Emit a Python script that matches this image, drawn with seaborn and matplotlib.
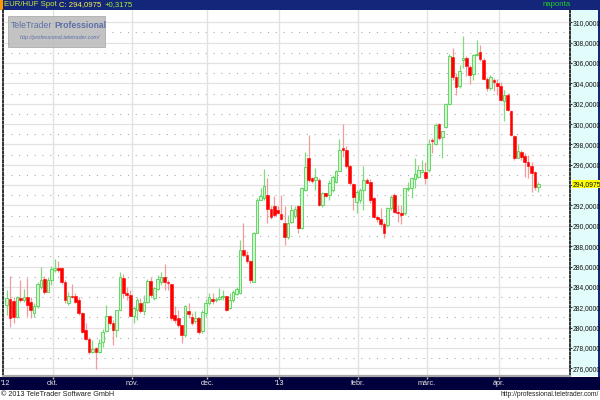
import numpy as np
import pandas as pd
import matplotlib
matplotlib.use("Agg")
import matplotlib.pyplot as plt
import matplotlib.transforms as mtransforms
from matplotlib.patches import Rectangle
import seaborn as sns

# ---------------- data ----------------
dates = pd.bdate_range("2012-09-11", "2013-04-16")

opens = [282.2, 282.8, 282.6, 281.0, 282.9, 282.75, 283.0, 282.5, 281.4, 282.1,
         284.0, 284.8, 283.5, 284.7, 285.7, 285.9, 285.9, 284.5, 282.4, 283.1,
         283.1, 282.7, 281.4, 279.8, 278.9, 277.6, 277.95, 277.6, 278.6, 279.7,
         281.1, 280.4, 279.8, 281.7, 284.9, 283.4, 283.2, 281.1, 281.7, 282.45,
         281.6, 282.55, 284.6, 282.9, 283.8, 284.5, 285.0, 284.5, 284.3, 281.2,
         280.9, 280.25, 279.3, 281.6, 281.0, 280.6, 280.9, 279.7, 281.4, 282.4,
         282.8, 282.7, 282.85, 283.0, 283.1, 281.9, 282.7, 283.3, 283.4, 287.6,
         287.1, 286.5, 284.5, 289.3, 292.5, 292.7, 293.0, 291.7, 291.95, 291.6,
         291.2, 290.3, 288.9, 290.4, 291.0, 291.9, 289.8, 293.5, 296.65, 294.68,
         294.52, 294.52, 292.06, 293.2, 293.04, 293.53, 294.35, 295.43, 297.63, 297.47,
         295.83, 294.12, 292.38, 292.55, 293.53, 294.52, 294.35, 292.71, 290.91, 290.67,
         290.15, 290.09, 291.73, 293.04, 291.4, 291.23, 291.23, 293.63, 293.69, 294.61,
         294.84, 295.33, 295.33, 295.5, 298.45, 298.02, 299.99, 298.68, 299.76, 301.96,
         306.55, 304.59, 303.7, 306.33, 306.49, 305.57, 304.91, 306.75, 307.08, 306.33,
         304.46, 303.54, 304.36, 304.03, 303.7, 302.29, 302.88, 301.31, 298.78, 296.71,
         297.3, 296.91, 296.32, 295.83, 295.33, 293.86]

highs = [283.7, 285.1, 283.0, 283.1, 284.7, 283.8, 284.9, 283.0, 282.4, 284.5,
         286.0, 285.1, 285.0, 286.05, 286.7, 286.5, 286.0, 284.7, 283.5, 284.3,
         283.4, 283.0, 281.5, 280.4, 279.1, 278.8, 278.1, 278.9, 279.9, 282.2,
         281.2, 280.7, 281.7, 285.5, 285.3, 284.0, 283.7, 282.1, 283.0, 282.9,
         283.2, 284.8, 285.0, 284.0, 285.2, 285.5, 286.2, 284.7, 284.3, 282.1,
         281.7, 280.25, 282.2, 282.4, 281.4, 281.6, 281.0, 281.7, 282.8, 283.4,
         283.4, 283.0, 283.85, 283.7, 283.1, 283.4, 283.7, 284.0, 288.6, 290.25,
         287.5, 286.6, 289.4, 292.7, 293.7, 295.6, 294.7, 291.9, 292.9, 291.95,
         293.0, 291.95, 291.1, 292.0, 291.9, 292.06, 293.8, 297.3, 298.9, 294.84,
         295.66, 294.68, 293.37, 293.27, 294.52, 295.01, 295.5, 298.52, 300.03, 297.8,
         295.99, 294.19, 293.53, 293.7, 295.83, 294.68, 294.57, 292.87, 291.07, 291.8,
         290.41, 291.89, 293.04, 293.2, 292.05, 292.05, 293.76, 294.35, 294.84, 296.65,
         295.99, 296.48, 296.32, 298.55, 298.6, 300.09, 300.09, 299.34, 302.06, 306.88,
         307.47, 305.01, 305.83, 308.62, 306.65, 305.83, 306.88, 308.29, 307.74, 306.49,
         304.59, 304.78, 304.52, 304.46, 304.13, 303.37, 303.04, 301.4, 298.94, 298.02,
         297.47, 297.14, 296.97, 296.32, 295.4, 294.35]

lows = [281.2, 280.1, 280.4, 280.9, 282.5, 282.5, 281.1, 280.9, 281.0, 281.9,
        283.8, 283.3, 283.5, 284.2, 285.5, 285.5, 284.3, 282.4, 282.2, 282.9,
        282.4, 281.2, 279.5, 278.8, 277.45, 277.5, 275.9, 277.5, 278.1, 279.6,
        280.3, 278.3, 279.1, 281.7, 282.9, 282.7, 281.1, 280.4, 280.7, 281.4,
        281.2, 282.4, 283.0, 282.7, 283.7, 284.2, 283.7, 283.7, 280.7, 280.4,
        280.1, 278.45, 279.1, 280.9, 280.25, 280.4, 279.4, 279.5, 281.1, 282.2,
        282.3, 282.5, 282.7, 282.7, 281.6, 281.8, 282.5, 283.2, 283.3, 286.97,
        286.3, 284.35, 284.5, 289.3, 292.5, 292.55, 290.25, 290.65, 290.9, 291.2,
        290.6, 288.1, 288.7, 290.25, 290.8, 289.3, 289.7, 293.4, 294.35, 294.2,
        293.53, 291.96, 291.89, 292.87, 292.55, 293.37, 294.19, 295.34, 296.81, 295.66,
        294.02, 291.56, 291.24, 292.22, 291.56, 294.19, 292.22, 290.74, 290.41, 289.92,
        288.77, 289.92, 291.56, 291.23, 290.41, 290.15, 291.07, 293.43, 292.71, 293.69,
        294.68, 295.17, 294.09, 295.33, 297.14, 297.96, 298.45, 296.65, 299.6, 301.9,
        304.36, 302.88, 303.54, 305.5, 304.68, 303.93, 304.36, 306.65, 306.16, 304.36,
        303.21, 303.37, 303.27, 302.81, 302.22, 300.26, 301.31, 298.78, 296.48, 296.65,
        296.48, 294.84, 294.68, 293.37, 293.53, 293.37]

closes = [282.9, 280.9, 281.0, 283.0, 282.75, 283.0, 282.2, 281.7, 282.1, 284.3,
          284.7, 283.5, 284.7, 285.75, 285.9, 285.7, 284.5, 282.7, 283.1, 283.0,
          282.5, 281.4, 279.6, 278.9, 277.6, 277.9, 277.6, 278.5, 279.6, 281.1,
          280.4, 279.8, 281.7, 285.0, 283.4, 283.2, 281.1, 281.9, 282.7, 281.6,
          282.55, 284.6, 283.2, 283.9, 284.75, 285.0, 284.5, 284.4, 280.9, 280.7,
          280.25, 279.3, 282.1, 281.3, 280.4, 280.9, 279.6, 281.5, 282.4, 283.0,
          282.6, 282.8, 283.0, 283.1, 281.7, 282.7, 283.5, 283.8, 287.6, 287.1,
          286.5, 284.7, 289.3, 292.5, 292.9, 293.9, 291.7, 290.9, 291.1, 291.3,
          290.7, 288.9, 290.25, 291.6, 291.7, 289.8, 293.7, 295.8, 294.5, 294.45,
          294.78, 292.06, 293.2, 292.97, 294.25, 294.78, 295.34, 297.47, 297.47, 295.83,
          294.19, 292.87, 293.37, 293.53, 294.52, 294.25, 292.55, 290.91, 290.64, 290.15,
          289.27, 291.73, 292.87, 291.4, 291.23, 291.07, 293.69, 293.76, 294.68, 295.07,
          295.5, 295.5, 294.74, 298.02, 298.35, 299.93, 298.62, 299.27, 301.96, 306.65,
          304.59, 303.6, 305.18, 306.49, 305.67, 304.85, 306.75, 306.88, 306.42, 304.46,
          303.54, 304.59, 304.13, 303.7, 302.39, 302.88, 301.4, 298.94, 296.65, 297.37,
          296.81, 296.32, 295.83, 295.17, 293.78, 294.0975]

month_labels = ["'12", "okt.", "nov.", "dec.", "'13", "febr.", "márc.", "ápr."]
y_ticks = list(range(276, 311, 2))
last_price = 294.0975
last_change = 0.3175
title_symbol = "EUR/HUF Spot"
period_label = "naponta"

# ---------------- style ----------------
sns.set_theme(style="white")
plt.rcParams["font.family"] = ["Liberation Sans", "DejaVu Sans"]

df = pd.DataFrame({"date": dates, "open": opens, "high": highs,
                   "low": lows, "close": closes})
df["idx"] = np.arange(len(df))
df["up"] = df["close"] >= df["open"]

NAVY = "#14267a"
DARK = "#00003c"
W, H = 600, 400

fig = plt.figure(figsize=(6, 4), dpi=100)
fig.patch.set_facecolor("white")
renderer = fig.canvas.get_renderer()


def text_w(s, size, weight="normal", style="normal"):
    t = fig.text(0, 0, s, fontsize=size, fontweight=weight, style=style)
    w = t.get_window_extent(renderer=renderer).width
    t.remove()
    return w


def fx(px):
    return px / W


def fy(py):
    return 1 - py / H


def frect(x, y, w, h, color, z=0, **kw):
    fig.patches.append(Rectangle((fx(x), fy(y + h)), w / W, h / H,
                                 transform=fig.transFigure, facecolor=color,
                                 edgecolor=kw.pop("ec", "none"), zorder=z, **kw))


# frame pieces (figure level, below the axes)
frect(0, 0, 600, 9.6, NAVY)
frect(0, 0, 3, 9.6, "#ff9900", z=0.5)
frect(570, 9.6, 28, 366.4, "#e2fcfc")
frect(598, 0, 2, 390, NAVY)
frect(0, 377, 600, 13, DARK)

ax = fig.add_axes([fx(3), fy(376), (570 - 3) / W, (376 - 9.6) / H])
ax.set_zorder(2)
ax.set_facecolor("white")

ax.set_xlim(-1.08, 164.2)
ax.set_ylim(275.24, 311.25)

# grid
for v in y_ticks:
    ax.axhline(v, color="#e6e1e1", lw=0.9, zorder=0)
for v in range(277, 311, 2):
    ax.axhline(v, color="#ababab", lw=0.8, ls=(0, (1, 6)), zorder=0)

# month boundaries
months = df["date"].dt.to_period("M")
bounds = [i - 0.5 for i in range(1, len(df)) if months.iloc[i] != months.iloc[i - 1]]
for b in bounds:
    ax.axvline(b, color="#e2e2e2", lw=1.0, zorder=0)

# candles
up = df[df["up"]]
dn = df[~df["up"]]
ax.vlines(up["idx"], up["low"], up["high"], color="#7ddc7d", lw=0.9, zorder=2)
ax.vlines(dn["idx"], dn["low"], dn["high"], color="#f39a9a", lw=0.9, zorder=2)


def body_h(d):
    return np.maximum((d["close"] - d["open"]).abs(), 0.06)


ax.bar(up["idx"], body_h(up), bottom=np.minimum(up["open"], up["close"]),
       width=0.78, color="#d2f6d2", edgecolor="#52d052", linewidth=0.6, zorder=3)
ax.bar(dn["idx"], body_h(dn), bottom=np.minimum(dn["open"], dn["close"]),
       width=0.78, color="#ff0000", edgecolor="#ff0000", linewidth=0.4, zorder=3)

# y axis on the right
tick_size = 4.9
ax.yaxis.tick_right()
ax.set_yticks(y_ticks)
ax.set_yticklabels(["" if v == 294 else f"{v},0000" for v in y_ticks])
ax.tick_params(axis="y", which="major", length=1.6, width=0.8, color="#303030",
               pad=0.6, labelsize=tick_size, labelcolor="#101010", direction="out")
ax.set_xticks([])

ax.annotate(f"{last_price:.4f}".replace(".", ","), xy=(1.0, last_price),
            xycoords=("axes fraction", "data"), xytext=(1.7, 0),
            textcoords="offset points", ha="left", va="center",
            fontsize=tick_size, color="#101010", annotation_clip=False,
            bbox=dict(boxstyle="square,pad=0.12", fc="#ffff00", ec="none"))

for side in ["left", "right"]:
    ax.spines[side].set_visible(True)
    ax.spines[side].set_color("#303030")
    ax.spines[side].set_linewidth(1.4)
    ax.spines[side].set_linestyle((0, (1, 1.2)))
ax.spines["top"].set_visible(False)
ax.spines["bottom"].set_color("#a8a8a8")
ax.spines["bottom"].set_linewidth(1.6)

# month labels in the bottom band
msize = 5.2
blend = mtransforms.blended_transform_factory(ax.transData, fig.transFigure)
fig.text(fx(1), fy(383.5), month_labels[0], color="#e8e8e8", fontsize=msize,
         ha="left", va="center", zorder=3)
for b, lab in zip(bounds, month_labels[1:]):
    ax.text(b, fy(383.5), lab, transform=blend, color="#e8e8e8", fontsize=msize,
            ha="center", va="center", clip_on=False)
    ax.plot([b], [fy(377.6)], marker="|", ms=2.0, color="#c8c890",
            transform=blend, clip_on=False)

# header, pieces laid out one after another
hsize = 5.6
pieces = [(title_symbol, "#c8ec38"),
          (f"C: {last_price:.4f}".replace(".", ","), "#f4f44a"),
          (f"+{last_change:.4f}".replace(".", ","), "#a4f03a")]
xcur = 3.5
for s, c in pieces:
    fig.text(fx(xcur), fy(4.9), s, color=c, fontsize=hsize,
             ha="left", va="center", zorder=3)
    xcur += text_w(s, hsize) + 3.0
fig.text(fx(543), fy(4.9), period_label, color="#22cc22",
         fontsize=5.6, ha="left", va="center", zorder=3)

# watermark box
frect(8, 16, 97, 31, "#bdbdbd", z=5, ec="#a8a8a8", lw=0.6, alpha=0.9)
fig.text(fx(11), fy(25.5), "TeleTrader", color="#5b70a8", fontsize=6.2,
         ha="left", va="center", zorder=6)
x_pro = 11 + text_w("TeleTrader ", 6.2)
fig.text(fx(x_pro), fy(25.5), "Professional", color="#5b70a8", fontsize=6.2,
         fontweight="bold", ha="left", va="center", zorder=6)
wm2 = "http://professional.teletrader.com/"
fig.text(fx(100), fy(37.5), wm2, color="#5b70a8", fontsize=4.0, style="italic",
         ha="right", va="center", zorder=6)

# footer
ft1 = "© 2013 TeleTrader Software GmbH"
ft2 = "http://professional.teletrader.com/"
fig.text(fx(1), fy(395), ft1, color="#202020", fontsize=5.2,
         ha="left", va="center")
fig.text(fx(599), fy(395), ft2, color="#202020", fontsize=4.8,
         ha="right", va="center")

fig.savefig("out.png", dpi=100, facecolor="white")
